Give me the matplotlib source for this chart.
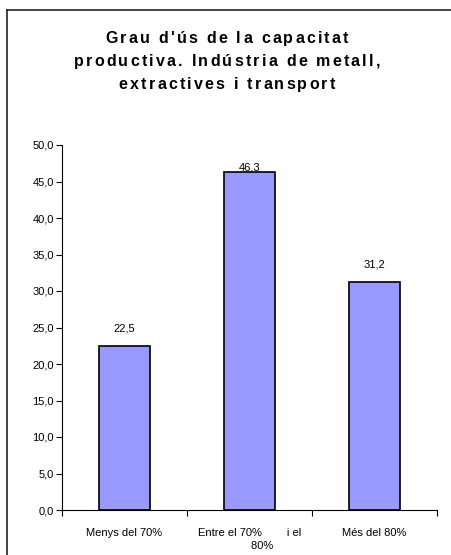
import matplotlib
matplotlib.use("Agg")
import matplotlib.pyplot as plt
from matplotlib.lines import Line2D
from matplotlib.font_manager import FontProperties

categories = ["Menys del 70%", "Entre el 70%        i el\n        80%", "Més del 80%"]
values = [22.5, 46.3, 31.2]
value_labels = ["22,5", "46,3", "31,2"]
yticks = [0, 5, 10, 15, 20, 25, 30, 35, 40, 45, 50]
ytick_labels = ["0,0", "5,0", "10,0", "15,0", "20,0", "25,0", "30,0", "35,0", "40,0", "45,0", "50,0"]
title_lines = ["Grau d'ús de la capacitat", "productiva. Indústria de metall,", "extractives i transport"]

plt.rcParams['font.family'] = ['Liberation Sans', 'DejaVu Sans']

W, H = 451, 555
fig = plt.figure(figsize=(W / 100, H / 100), dpi=100)
fig.patch.set_facecolor("white")

# outer frame (left and top edges visible)
fx = 7 / W
fy = 1 - 10 / H
fig.add_artist(Line2D([fx, fx], [0, fy], transform=fig.transFigure, color="#222222", lw=1.2))
fig.add_artist(Line2D([fx, 1], [fy, fy], transform=fig.transFigure, color="#222222", lw=1.2))

ax = fig.add_axes([62 / W, 1 - 510 / H, (437 - 62) / W, (510 - 145) / H])
x = list(range(len(categories)))
ax.bar(x, values, width=0.41, color="#9999FF", edgecolor="black", linewidth=1.2, zorder=2)

offsets = [9, 0, 9]
for xi, v, lab, off in zip(x, values, value_labels, offsets):
    ax.annotate(lab, (xi, v), xytext=(0, off), textcoords="offset points",
                ha="center", va="bottom", fontsize=8, color="black")

ax.set_xlim(-0.5, len(categories) - 0.5)
ax.set_ylim(0, 50)
ax.set_yticks(yticks)
ax.set_yticklabels(ytick_labels, fontsize=8)

ax.set_xticks([i - 0.5 for i in range(len(categories) + 1)])
ax.set_xticklabels([])
ax.set_xticks(x, minor=True)
ax.set_xticklabels(categories, minor=True, fontsize=8, linespacing=1.4, va="top")
ax.tick_params(axis="x", which="minor", length=0, pad=13)
ax.tick_params(axis="x", which="major", length=4, width=0.8, direction="out")
ax.tick_params(axis="y", length=4, width=0.8, direction="out", pad=2)

for s in ["top", "right"]:
    ax.spines[s].set_visible(False)
for s in ["left", "bottom"]:
    ax.spines[s].set_linewidth(0.8)
    ax.spines[s].set_color("black")

# letter-spaced bold title
fp = FontProperties(family="Liberation Sans", weight="bold", size=11.5)
renderer = fig.canvas.get_renderer()

def tw(s):
    return renderer.get_text_width_height_descent(s, fp, ismath=False)[0]

ref_w = tw("x")
target_width = 306  # pixel width of the longest title line
longest = max(title_lines, key=len)
spacing = (target_width - tw(longest)) / (len(longest) - 1)
baselines = [43, 66, 89]

for line, yb in zip(title_lines, baselines):
    n = len(line)
    total = tw(line) + spacing * (n - 1)
    x0 = 227 - total / 2
    for i, c in enumerate(line):
        if c == " ":
            continue
        pre = tw(line[:i] + "x") - ref_w if i > 0 else 0.0
        xpos = x0 + pre + spacing * i
        fig.text(xpos / W, 1 - yb / H, c, ha="left", va="baseline",
                 fontproperties=fp, color="black")

fig.savefig("out.png", dpi=100, facecolor="white")
